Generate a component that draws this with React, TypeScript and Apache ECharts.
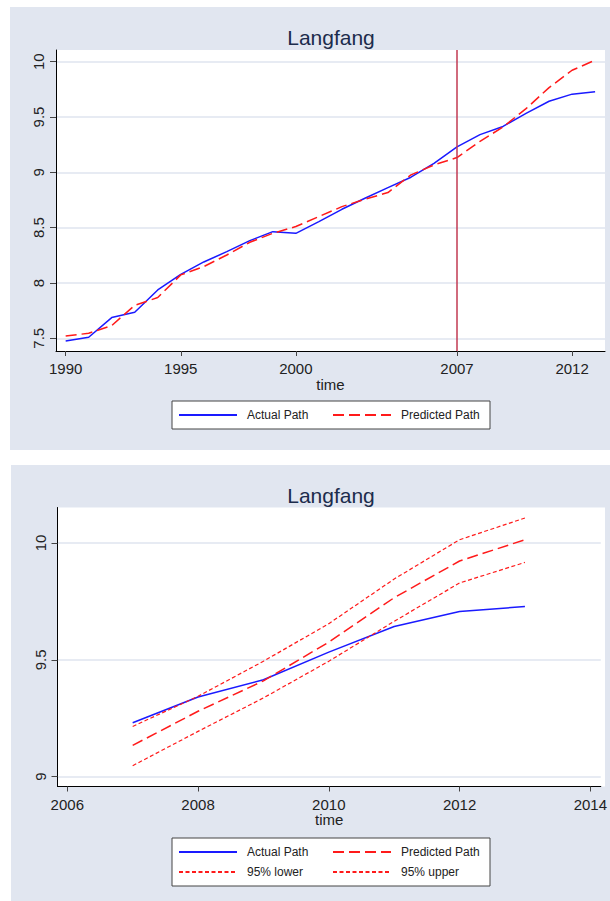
import React, { useEffect, useRef } from "react";
import * as echarts from "echarts";

const years = [1990, 1991, 1992, 1993, 1994, 1995, 1996, 1997, 1998, 1999, 2000, 2001, 2002, 2003, 2004, 2005, 2006, 2007, 2008, 2009, 2010, 2011, 2012, 2013];
const actualPath = [7.476, 7.509, 7.687, 7.735, 7.937, 8.078, 8.19, 8.283, 8.383, 8.464, 8.449, 8.555, 8.666, 8.766, 8.862, 8.956, 9.082, 9.231, 9.341, 9.415, 9.533, 9.643, 9.707, 9.728];
const predictedPath = [7.521, 7.545, 7.615, 7.798, 7.868, 8.073, 8.148, 8.253, 8.368, 8.449, 8.51, 8.6, 8.69, 8.757, 8.817, 8.977, 9.067, 9.134, 9.28, 9.41, 9.576, 9.766, 9.923, 10.014];
const forecastYears = [2007, 2008, 2009, 2010, 2011, 2012, 2013];
const lower95 = [9.047, 9.194, 9.337, 9.494, 9.665, 9.829, 9.917];
const upper95 = [9.215, 9.344, 9.494, 9.655, 9.846, 10.014, 10.107];

const topXTicks = [1990, 1995, 2000, 2007, 2012];
const topYTicks = [7.5, 8, 8.5, 9, 9.5, 10];
const bottomXTicks = [2006, 2008, 2010, 2012, 2014];
const bottomYTicks = [9, 9.5, 10];
const breakYear = 2007;
const titleText = "Langfang";

const FONT = '"Liberation Sans", Arial, sans-serif';
const BG = "#e1e6f0";
const GRID = "#dfe5ef";
const BLUE = "#1a1aff";
const RED = "#ff1a1a";

function pairs(xs: number[], ys: number[]) {
  return xs.map((x, i) => [x, ys[i]]);
}

export default function App() {
  const ref = useRef<HTMLDivElement>(null);
  useEffect(() => {
    document.body.style.margin = "0";
    if (!ref.current) return;
    const chart = echarts.init(ref.current, null, { renderer: "svg" });
    const startIdx = years.indexOf(forecastYears[0]);
    const xAxisBase = (ticks: number[], min: number, max: number, gridIndex: number) => ({
      type: "value",
      gridIndex,
      min,
      max,
      name: "time",
      nameLocation: "middle",
      nameGap: 25,
      nameTextStyle: { fontFamily: FONT, fontSize: 15, color: "#222" },
      axisLine: { show: true, lineStyle: { color: "#000", width: 1 } },
      axisTick: { show: true, length: 5, customValues: ticks, lineStyle: { color: "#444" } },
      axisLabel: { customValues: ticks, fontFamily: FONT, fontSize: 15, color: "#222", margin: 10, formatter: (v: number) => String(Math.round(v)) },
      splitLine: { show: false },
    });
    const yAxisBase = (ticks: number[], min: number, max: number, gridIndex: number) => ({
      type: "value",
      gridIndex,
      min,
      max,
      axisLine: { show: true, lineStyle: { color: "#000", width: 1 } },
      axisTick: { show: true, length: 6, customValues: ticks, lineStyle: { color: "#444" } },
      axisLabel: { customValues: ticks, rotate: 90, fontFamily: FONT, fontSize: 15, color: "#222", margin: 10, formatter: (v: number) => String(v) },
      splitLine: { show: true, lineStyle: { color: GRID, width: 1.5 } },
    });
    const legendBase = {
      orient: "horizontal",
      left: 172,
      itemWidth: 58,
      itemHeight: 14,
      itemGap: 6,
      width: 330,
      padding: [7, 10, 7, 6],
      borderColor: "#444",
      borderWidth: 1,
      backgroundColor: "#fff",
      itemStyle: { opacity: 0 },
      textStyle: { fontFamily: FONT, fontSize: 12, color: "#222", width: 79, padding: [0, 0, 0, 5], lineHeight: 14 },
    };
    chart.setOption({
      animation: false,
      graphic: [
        { type: "rect", shape: { x: 10, y: 7, width: 600, height: 443 }, style: { fill: BG }, z: -10 },
        { type: "rect", shape: { x: 11, y: 465, width: 599, height: 436 }, style: { fill: BG }, z: -10 },
        { type: "rect", shape: { x: 56, y: 50, width: 549, height: 301 }, style: { fill: "#fff" }, z: -9 },
        { type: "rect", shape: { x: 57.5, y: 507.5, width: 547.5, height: 279 }, style: { fill: "#fff" }, z: -9 },
        { type: "text", x: 331, y: 37, style: { text: titleText, fontFamily: FONT, fontSize: 21, fill: "#1c2c4c", textAlign: "center", textVerticalAlign: "middle" } },
        { type: "text", x: 331, y: 495, style: { text: titleText, fontFamily: FONT, fontSize: 21, fill: "#1c2c4c", textAlign: "center", textVerticalAlign: "middle" } },
      ],
      grid: [
        { left: 56, top: 50, width: 549, height: 301 },
        { left: 57.5, top: 507.5, width: 547.5, height: 279 },
      ],
      xAxis: [xAxisBase(topXTicks, 1989.58, 2013.43, 0), xAxisBase(bottomXTicks, 2005.85, 2014.16, 1)],
      yAxis: [yAxisBase(topYTicks, 7.385, 10.106, 0), yAxisBase(bottomYTicks, 8.958, 10.152, 1)],
      legend: [
        { ...legendBase, top: 401, data: ["Actual Path", "Predicted Path"] },
        { ...legendBase, top: 838, data: ["Actual Path", "Predicted Path", "95% lower", "95% upper"] },
      ],
      series: [
        {
          name: "Actual Path",
          type: "line",
          xAxisIndex: 0,
          yAxisIndex: 0,
          symbol: "none",
          data: pairs(years, actualPath),
          lineStyle: { color: BLUE, width: 1.5 },
          itemStyle: { color: BLUE },
          z: 3,
          markLine: {
            silent: true,
            symbol: "none",
            label: { show: false },
            lineStyle: { color: "#c23a52", width: 1.5, type: "solid" },
            data: [{ xAxis: breakYear }],
          },
        },
        {
          name: "Predicted Path",
          type: "line",
          xAxisIndex: 0,
          yAxisIndex: 0,
          symbol: "none",
          data: pairs(years, predictedPath),
          lineStyle: { color: RED, width: 1.5, type: [11, 5] },
          itemStyle: { color: RED },
          z: 4,
        },
        {
          name: "Actual Path",
          type: "line",
          xAxisIndex: 1,
          yAxisIndex: 1,
          symbol: "none",
          data: pairs(forecastYears, actualPath.slice(startIdx)),
          lineStyle: { color: BLUE, width: 1.5 },
          itemStyle: { color: BLUE },
          z: 3,
        },
        {
          name: "Predicted Path",
          type: "line",
          xAxisIndex: 1,
          yAxisIndex: 1,
          symbol: "none",
          data: pairs(forecastYears, predictedPath.slice(startIdx)),
          lineStyle: { color: RED, width: 1.5, type: [11, 5] },
          itemStyle: { color: RED },
          z: 4,
        },
        {
          name: "95% lower",
          type: "line",
          xAxisIndex: 1,
          yAxisIndex: 1,
          symbol: "none",
          data: pairs(forecastYears, lower95),
          lineStyle: { color: RED, width: 1.2, type: [4, 2.5] },
          itemStyle: { color: RED },
          z: 4,
        },
        {
          name: "95% upper",
          type: "line",
          xAxisIndex: 1,
          yAxisIndex: 1,
          symbol: "none",
          data: pairs(forecastYears, upper95),
          lineStyle: { color: RED, width: 1.2, type: [4, 2.5] },
          itemStyle: { color: RED },
          z: 4,
        },
      ],
    });
    return () => chart.dispose();
  }, []);
  return <div ref={ref} style={{ width: 610, height: 901 }} />;
}
